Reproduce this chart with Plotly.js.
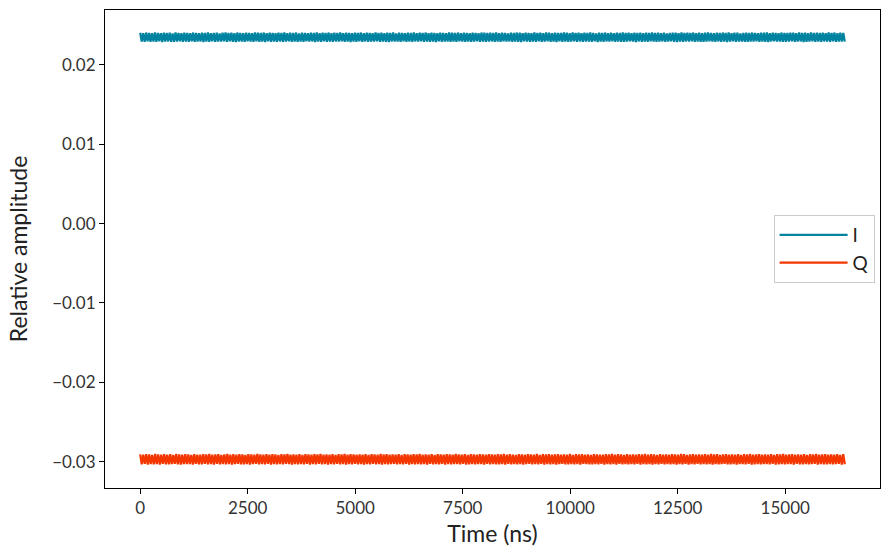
<!DOCTYPE html>
<html>
<head>
<meta charset="utf-8">
<script src="https://cdn.plot.ly/plotly-3.0.1.min.js"></script>
<style>html,body{margin:0;padding:0;background:#fff}#chart{width:889px;height:556px}</style>
</head>
<body>
<div id="chart"></div>
<script>
// Time span of the recorded trace (ns)
const tStart = 0;
const tEnd = 16384;

// In-phase (I) samples (relative amplitude)
const iValues = [
0.02404,0.02291,0.02399,0.02288,0.02406,0.02295,0.02401,0.02290,0.02397,0.02293,
0.02407,0.02289,0.02402,0.02296,0.02398,0.02287,0.02405,0.02292,0.02400,0.02294,
0.02403,0.02290,0.02396,0.02289,0.02408,0.02293,0.02401,0.02295,0.02399,0.02288,
0.02405,0.02292,0.02402,0.02290,0.02397,0.02296,0.02406,0.02289,0.02400,0.02291,
0.02398,0.02294,0.02404,0.02287,0.02401,0.02293,0.02407,0.02290,0.02399,0.02295,
0.02402,0.02288,0.02405,0.02292,0.02396,0.02291,0.02403,0.02294,0.02408,0.02289,
0.02400,0.02296,0.02404,0.02290,0.02398,0.02287,0.02406,0.02293,0.02401,0.02292,
0.02397,0.02289,0.02405,0.02295,0.02402,0.02291,0.02399,0.02288,0.02407,0.02294,
0.02403,0.02290,0.02400,0.02293,0.02406,0.02287,0.02398,0.02296,0.02404,0.02289,
0.02401,0.02292,0.02397,0.02290,0.02405,0.02294,0.02402,0.02288,0.02408,0.02291,
0.02399,0.02295,0.02403,0.02289,0.02400,0.02293,0.02406,0.02290,0.02396,0.02292,
0.02404,0.02288,0.02401,0.02296,0.02398,0.02291,0.02405,0.02294,0.02402,0.02287,
0.02407,0.02293,0.02399,0.02290,0.02403,0.02295,0.02400,0.02289,0.02406,0.02292,
0.02397,0.02288,0.02404,0.02294,0.02401,0.02291,0.02408,0.02296,0.02398,0.02290,
0.02405,0.02293,0.02402,0.02287,0.02399,0.02292,0.02403,0.02289,0.02400,0.02295,
0.02406,0.02290,0.02397,0.02294,0.02404,0.02288,0.02401,0.02293,0.02398,0.02291,
0.02407,0.02296,0.02402,0.02289,0.02405,0.02292,0.02399,0.02290,0.02403,0.02287,
0.02400,0.02294,0.02406,0.02291,0.02396,0.02293,0.02404,0.02288,0.02401,0.02295,
0.02398,0.02290,0.02405,0.02292,0.02402,0.02289,0.02408,0.02294,0.02399,0.02291,
0.02403,0.02296,0.02400,0.02288,0.02406,0.02293,0.02397,0.02290,0.02404,0.02292,
0.02401,0.02287,0.02398,0.02295,0.02405,0.02289,0.02402,0.02294,0.02399,0.02291,
0.02407,0.02290,0.02403,0.02293,0.02400,0.02288,0.02406,0.02296,0.02397,0.02292,
0.02404,0.02289,0.02401,0.02294,0.02398,0.02290,0.02405,0.02291,0.02402,0.02295,
0.02399,0.02288,0.02406,0.02293,0.02403,0.02290,0.02400,0.02292,0.02404,0.02294,
0.02402,0.02290,0.02407,0.02293,0.02398,0.02289,0.02405,0.02296,0.02401,0.02291,
0.02396,0.02294,0.02404,0.02288,0.02400,0.02292,0.02406,0.02290,0.02403,0.02287,
0.02399,0.02295,0.02405,0.02291,0.02402,0.02289,0.02397,0.02293,0.02408,0.02290,
0.02401,0.02296,0.02404,0.02288,0.02399,0.02292,0.02406,0.02294,0.02403,0.02289,
0.02398,0.02291,0.02405,0.02287,0.02400,0.02295,0.02402,0.02290,0.02407,0.02293,
0.02404,0.02289,0.02397,0.02292,0.02406,0.02296,0.02401,0.02288,0.02403,0.02294,
0.02399,0.02290,0.02405,0.02291,0.02402,0.02293,0.02408,0.02289,0.02400,0.02295,
0.02396,0.02287,0.02404,0.02292,0.02401,0.02290,0.02406,0.02294,0.02398,0.02291,
0.02403,0.02296,0.02399,0.02288,0.02405,0.02293,0.02402,0.02289,0.02407,0.02290,
0.02400,0.02292,0.02404,0.02295,0.02397,0.02291,0.02406,0.02287,0.02401,0.02294,
0.02405,0.02290,0.02398,0.02293,0.02403,0.02289,0.02400,0.02296,0.02408,0.02292,
0.02402,0.02288,0.02406,0.02291,0.02399,0.02294,0.02404,0.02290,0.02396,0.02293,
0.02401,0.02295,0.02405,0.02289,0.02403,0.02287,0.02398,0.02292,0.02407,0.02290,
0.02400,0.02294,0.02404,0.02291,0.02402,0.02296,0.02406,0.02288,0.02399,0.02293,
0.02405,0.02289,0.02397,0.02290,0.02403,0.02292,0.02408,0.02295,0.02401,0.02291,
0.02398,0.02288,0.02404,0.02294,0.02400,0.02290,0.02406,0.02293,0.02402,0.02287,
0.02407,0.02291,0.02399,0.02296,0.02405,0.02289,0.02403,0.02292,0.02396,0.02294,
0.02401,0.02290,0.02404,0.02288,0.02400,0.02293,0.02406,0.02291,0.02402,0.02295,
0.02398,0.02289,0.02405,0.02292,0.02403,0.02290,0.02408,0.02287,0.02399,0.02294,
0.02404,0.02296,0.02401,0.02291,0.02397,0.02293,0.02406,0.02288,0.02402,0.02290,
0.02400,0.02292,0.02405,0.02295,0.02403,0.02289,0.02398,0.02291,0.02407,0.02294,
0.02401,0.02287,0.02404,0.02290,0.02399,0.02293,0.02406,0.02296,0.02402,0.02288,
0.02405,0.02292,0.02400,0.02289,0.02403,0.02294,0.02397,0.02291,0.02408,0.02290,
0.02402,0.02295,0.02406,0.02288,0.02399,0.02293,0.02404,0.02291,0.02401,0.02292
];

// Quadrature (Q) samples (relative amplitude)
const qValues = [
-0.02906,-0.03031,-0.02910,-0.03027,-0.02903,-0.03034,-0.02908,-0.03029,-0.02912,-0.03032,
-0.02902,-0.03028,-0.02907,-0.03035,-0.02911,-0.03026,-0.02904,-0.03031,-0.02909,-0.03033,
-0.02905,-0.03029,-0.02913,-0.03027,-0.02901,-0.03032,-0.02908,-0.03034,-0.02910,-0.03028,
-0.02904,-0.03030,-0.02907,-0.03029,-0.02912,-0.03035,-0.02903,-0.03027,-0.02909,-0.03031,
-0.02911,-0.03033,-0.02905,-0.03026,-0.02908,-0.03032,-0.02902,-0.03029,-0.02910,-0.03034,
-0.02907,-0.03027,-0.02904,-0.03031,-0.02913,-0.03030,-0.02906,-0.03033,-0.02901,-0.03028,
-0.02909,-0.03035,-0.02905,-0.03029,-0.02911,-0.03026,-0.02903,-0.03032,-0.02908,-0.03031,
-0.02912,-0.03028,-0.02904,-0.03034,-0.02907,-0.03030,-0.02910,-0.03027,-0.02902,-0.03033,
-0.02906,-0.03029,-0.02909,-0.03032,-0.02903,-0.03026,-0.02911,-0.03035,-0.02905,-0.03028,
-0.02908,-0.03031,-0.02912,-0.03029,-0.02904,-0.03033,-0.02907,-0.03027,-0.02901,-0.03030,
-0.02910,-0.03034,-0.02906,-0.03028,-0.02909,-0.03032,-0.02903,-0.03029,-0.02913,-0.03031,
-0.02905,-0.03027,-0.02908,-0.03035,-0.02911,-0.03030,-0.02904,-0.03033,-0.02907,-0.03026,
-0.02902,-0.03032,-0.02910,-0.03029,-0.02906,-0.03034,-0.02909,-0.03028,-0.02903,-0.03031,
-0.02912,-0.03027,-0.02905,-0.03033,-0.02908,-0.03030,-0.02901,-0.03035,-0.02911,-0.03029,
-0.02904,-0.03032,-0.02907,-0.03026,-0.02910,-0.03031,-0.02906,-0.03028,-0.02909,-0.03034,
-0.02903,-0.03029,-0.02912,-0.03033,-0.02905,-0.03027,-0.02908,-0.03032,-0.02911,-0.03030,
-0.02902,-0.03035,-0.02907,-0.03028,-0.02904,-0.03031,-0.02910,-0.03029,-0.02906,-0.03026,
-0.02909,-0.03033,-0.02903,-0.03030,-0.02913,-0.03032,-0.02905,-0.03027,-0.02908,-0.03034,
-0.02911,-0.03029,-0.02904,-0.03031,-0.02907,-0.03028,-0.02901,-0.03033,-0.02910,-0.03030,
-0.02906,-0.03035,-0.02909,-0.03027,-0.02903,-0.03032,-0.02912,-0.03029,-0.02905,-0.03031,
-0.02908,-0.03026,-0.02911,-0.03034,-0.02904,-0.03028,-0.02907,-0.03033,-0.02910,-0.03030,
-0.02902,-0.03029,-0.02906,-0.03032,-0.02909,-0.03027,-0.02903,-0.03035,-0.02912,-0.03031,
-0.02905,-0.03028,-0.02908,-0.03033,-0.02911,-0.03029,-0.02904,-0.03030,-0.02907,-0.03034,
-0.02910,-0.03027,-0.02903,-0.03032,-0.02906,-0.03029,-0.02909,-0.03031,-0.02905,-0.03033,
-0.02908,-0.03030,-0.02902,-0.03034,-0.02911,-0.03027,-0.02905,-0.03031,-0.02909,-0.03029,
-0.02913,-0.03032,-0.02904,-0.03028,-0.02907,-0.03035,-0.02910,-0.03030,-0.02903,-0.03026,
-0.02906,-0.03033,-0.02909,-0.03029,-0.02901,-0.03031,-0.02912,-0.03027,-0.02905,-0.03034,
-0.02908,-0.03028,-0.02904,-0.03032,-0.02910,-0.03030,-0.02907,-0.03035,-0.02903,-0.03029,
-0.02911,-0.03026,-0.02906,-0.03033,-0.02909,-0.03031,-0.02902,-0.03028,-0.02912,-0.03032,
-0.02905,-0.03030,-0.02908,-0.03034,-0.02904,-0.03027,-0.02910,-0.03029,-0.02907,-0.03031,
-0.02913,-0.03033,-0.02903,-0.03028,-0.02906,-0.03032,-0.02909,-0.03026,-0.02911,-0.03035,
-0.02904,-0.03029,-0.02908,-0.03031,-0.02901,-0.03030,-0.02910,-0.03034,-0.02905,-0.03027,
-0.02907,-0.03032,-0.02912,-0.03028,-0.02903,-0.03033,-0.02909,-0.03029,-0.02906,-0.03031,
-0.02911,-0.03026,-0.02904,-0.03035,-0.02908,-0.03030,-0.02902,-0.03032,-0.02910,-0.03028,
-0.02905,-0.03034,-0.02907,-0.03029,-0.02913,-0.03031,-0.02903,-0.03027,-0.02909,-0.03033,
-0.02906,-0.03030,-0.02911,-0.03032,-0.02904,-0.03028,-0.02908,-0.03035,-0.02910,-0.03029,
-0.02902,-0.03031,-0.02905,-0.03026,-0.02912,-0.03034,-0.02907,-0.03030,-0.02903,-0.03032,
-0.02909,-0.03027,-0.02906,-0.03033,-0.02910,-0.03029,-0.02904,-0.03031,-0.02911,-0.03028,
-0.02901,-0.03035,-0.02908,-0.03030,-0.02905,-0.03032,-0.02913,-0.03029,-0.02907,-0.03026,
-0.02903,-0.03033,-0.02909,-0.03031,-0.02906,-0.03028,-0.02910,-0.03034,-0.02904,-0.03030,
-0.02912,-0.03029,-0.02905,-0.03032,-0.02908,-0.03027,-0.02902,-0.03035,-0.02911,-0.03031,
-0.02907,-0.03028,-0.02903,-0.03033,-0.02909,-0.03030,-0.02906,-0.03029,-0.02910,-0.03032,
-0.02904,-0.03026,-0.02912,-0.03034,-0.02905,-0.03031,-0.02908,-0.03028,-0.02901,-0.03033,
-0.02911,-0.03030,-0.02907,-0.03029,-0.02903,-0.03035,-0.02909,-0.03027,-0.02906,-0.03032,
-0.02910,-0.03031,-0.02904,-0.03028,-0.02913,-0.03033,-0.02905,-0.03030,-0.02908,-0.03026,
-0.02902,-0.03034,-0.02911,-0.03029,-0.02907,-0.03032,-0.02903,-0.03031,-0.02909,-0.03028,
-0.02906,-0.03033,-0.02910,-0.03030,-0.02904,-0.03027,-0.02912,-0.03035,-0.02905,-0.03031
];

const seriesNames = ['I', 'Q'];
const xTickVals = [0, 2500, 5000, 7500, 10000, 12500, 15000];
const yTickVals = [-0.03, -0.02, -0.01, 0.00, 0.01, 0.02];

function timeAxis(n) {
  const dt = (tEnd - tStart) / (n - 1);
  const t = [];
  for (let k = 0; k < n; k++) t.push(tStart + k * dt);
  return t;
}

const FONT = 'Lato, "DejaVu Sans", sans-serif';

const traces = [
  {x: timeAxis(iValues.length), y: iValues, name: seriesNames[0], type: 'scatter', mode: 'lines',
   line: {color: '#0083a0', width: 2.2, simplify: false}},
  {x: timeAxis(qValues.length), y: qValues, name: seriesNames[1], type: 'scatter', mode: 'lines',
   line: {color: '#f43600', width: 2.2, simplify: false}}
];

const layout = {
  width: 889, height: 556,
  margin: {l: 105, r: 9, t: 10, b: 68},
  paper_bgcolor: '#fff', plot_bgcolor: '#fff',
  font: {family: FONT, size: 17, color: '#222'},
  showlegend: true,
  legend: {x: 0.993, xanchor: 'right', y: 0.5, yanchor: 'middle',
           bgcolor: 'rgba(255,255,255,0.9)', bordercolor: '#cccccc', borderwidth: 1,
           tracegroupgap: 8, itemwidth: 68,
           font: {family: FONT, size: 19, color: '#222'}},
  xaxis: {
    range: [-819, 17203], tickvals: xTickVals, ticktext: xTickVals.map(String),
    showgrid: false, zeroline: false, showline: true, mirror: true, linecolor: '#000', linewidth: 1,
    ticks: 'outside', ticklen: 5, tickcolor: '#000', tickfont: {family: FONT, size: 17, color: '#333'},
    title: {text: 'Time (ns)', font: {family: FONT, size: 23, color: '#222'}, standoff: 8}
  },
  yaxis: {
    range: [-0.0333, 0.0269], tickvals: yTickVals, ticktext: yTickVals.map(v => v.toFixed(2).replace('-', '\u2212')),
    showgrid: false, zeroline: false, showline: true, mirror: true, linecolor: '#000', linewidth: 1,
    ticks: 'outside', ticklen: 5, tickcolor: '#000', tickfont: {family: FONT, size: 17, color: '#333'},
    title: {text: 'Relative amplitude', font: {family: FONT, size: 23, color: '#222'}, standoff: 18}
  }
};

Plotly.newPlot('chart', traces, layout, {staticPlot: true, displayModeBar: false});
</script>
</body>
</html>
